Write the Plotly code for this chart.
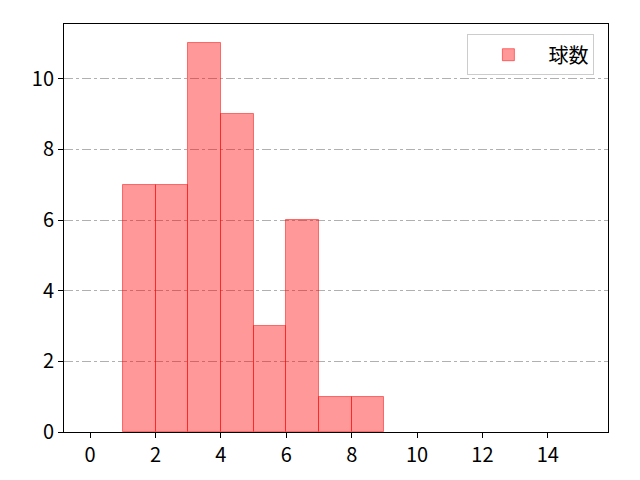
import plotly.graph_objects as go

bin_left = [1, 2, 3, 4, 5, 6, 7, 8]
counts = [7, 7, 11, 9, 3, 6, 1, 1]
x_ticks = [0, 2, 4, 6, 8, 10, 12, 14]
y_ticks = [0, 2, 4, 6, 8, 10]

fig = go.Figure(go.Bar(
    x=[b + 0.5 for b in bin_left], y=counts, width=1,
    name='球数',
    marker=dict(color='rgba(255,0,0,0.4)',
                line=dict(color='rgba(255,0,0,0.5)', width=1)),
))

axis_common = dict(showline=True, linecolor='black', linewidth=1, mirror=True,
                   ticks='outside', ticklen=5, tickcolor='black',
                   tickfont=dict(size=20, color='black'), zeroline=False)

fig.update_xaxes(range=[-0.8, 15.84], tickvals=x_ticks, showgrid=False, **axis_common)
fig.update_yaxes(range=[0, 11.55], tickvals=y_ticks, showgrid=True,
                 gridcolor='#b0b0b0', griddash='dashdot', gridwidth=0.8,
                 **axis_common)

fig.update_layout(
    width=640, height=480,
    margin=dict(l=56, r=40, t=16, b=56),
    plot_bgcolor='white', paper_bgcolor='white',
    font=dict(family='Noto Sans CJK JP', size=20, color='black'),
    showlegend=True,
    legend=dict(x=0.975, y=0.975, xanchor='right', yanchor='top',
                bordercolor='#cccccc', borderwidth=1, bgcolor='white',
                itemwidth=70, font=dict(size=20)),
    bargap=0,
)

fig.write_html("out.html")
